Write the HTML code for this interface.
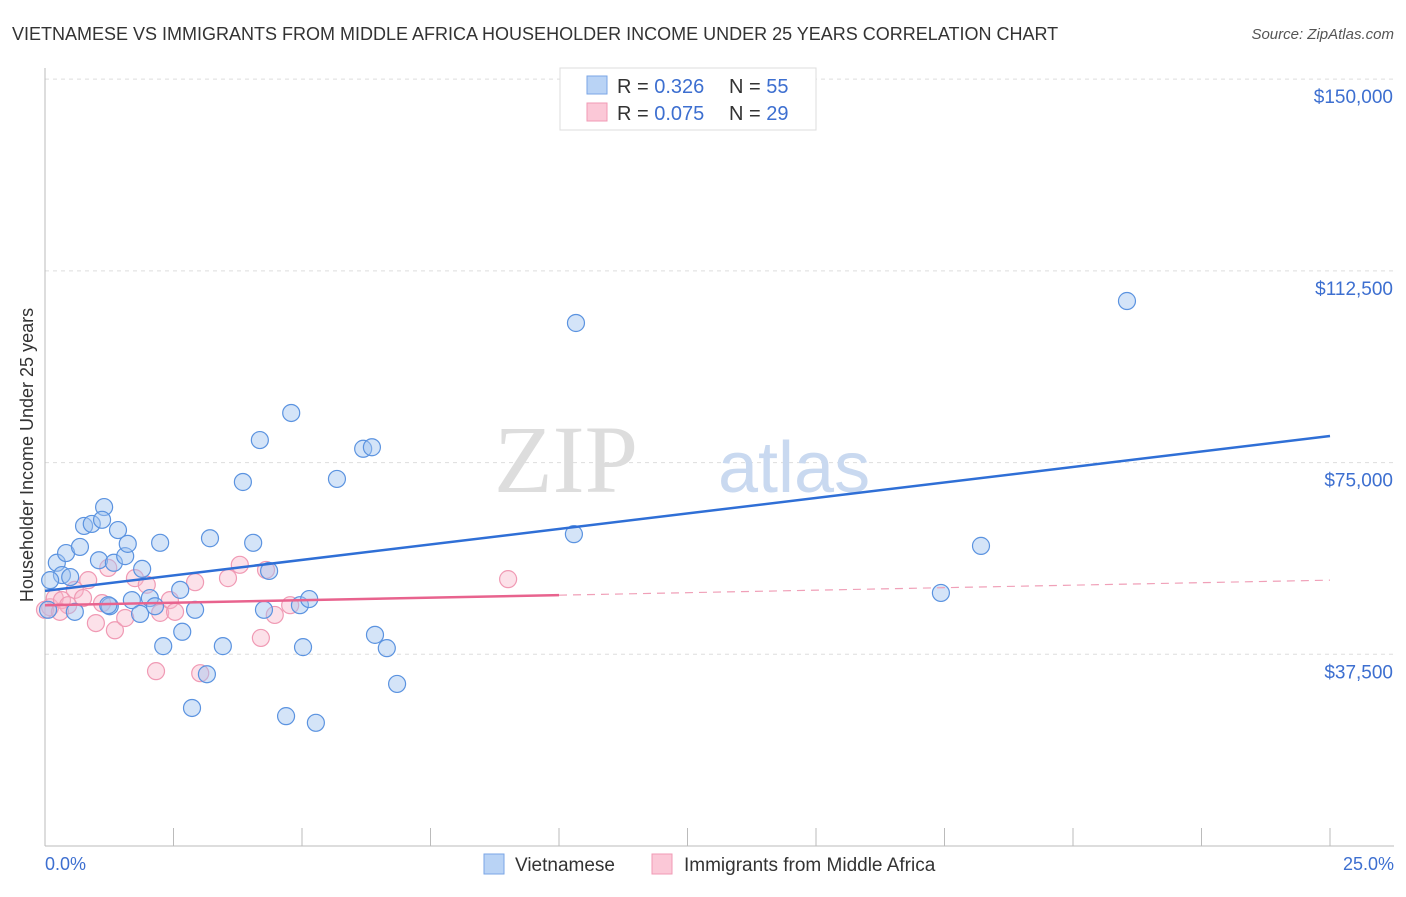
<!DOCTYPE html>
<html><head><meta charset="utf-8"><style>
body{margin:0;background:#fff;font-family:"Liberation Sans",sans-serif;}
svg text{font-family:"Liberation Sans",sans-serif;}
</style></head><body>
<svg id="chart" width="1406" height="892" xmlns="http://www.w3.org/2000/svg">
<text x="12" y="40" font-size="18" fill="#333">VIETNAMESE VS IMMIGRANTS FROM MIDDLE AFRICA HOUSEHOLDER INCOME UNDER 25 YEARS CORRELATION CHART</text>
<text x="1394" y="39" font-size="15" fill="#555" font-style="italic" text-anchor="end">Source: ZipAtlas.com</text>
<text x="33" y="455" font-size="18" fill="#333" text-anchor="middle" transform="rotate(-90 33 455)">Householder Income Under 25 years</text>
<g id="grid"></g>
<g id="yticks"></g>
<line x1="45" y1="68" x2="45" y2="846" stroke="#bbb"/>
<line x1="45" y1="846" x2="1394" y2="846" stroke="#bbb"/>
<g id="xticks"></g>
<text x="638" y="492" font-size="96" fill="#ddd" font-family="Liberation Serif" text-anchor="end" style="font-family:'Liberation Serif',serif">ZIP</text>
<text x="718" y="492" font-size="72" fill="#c9d9f0">atlas</text>
<g id="pts"></g>
<g id="lines"></g>
<text x="45" y="870" font-size="18" fill="#3d6fd0">0.0%</text>
<text x="1394" y="870" font-size="18" fill="#3d6fd0" text-anchor="end">25.0%</text>
<g>
<rect x="560" y="68" width="256" height="62" fill="#fff" stroke="#ddd"/>
<rect x="587" y="76" width="20" height="18" fill="#b9d3f5" stroke="#7aa6e6"/>
<rect x="587" y="103" width="20" height="18" fill="#fbc8d7" stroke="#f09ab4"/>
<text x="617" y="93" font-size="20" fill="#333">R = <tspan fill="#3d6fd0">0.326</tspan><tspan x="729">N = </tspan><tspan fill="#3d6fd0">55</tspan></text>
<text x="617" y="120" font-size="20" fill="#333">R = <tspan fill="#3d6fd0">0.075</tspan><tspan x="729">N = </tspan><tspan fill="#3d6fd0">29</tspan></text>
</g>
<g>
<rect x="484" y="854" width="20" height="20" fill="#b9d3f5" stroke="#7aa6e6"/>
<text x="515" y="871" font-size="19" fill="#333">Vietnamese</text>
<rect x="652" y="854" width="20" height="20" fill="#fbc8d7" stroke="#f09ab4"/>
<text x="684" y="871" font-size="19" fill="#333">Immigrants from Middle Africa</text>
</g>
</svg>
<script>
const blueX=[0.23,0.33,0.41,0.49,0.58,0.68,0.76,0.91,1.05,1.15,1.11,1.26,1.34,1.42,1.56,1.61,1.69,1.85,1.89,2.04,2.14,2.24,2.30,2.63,2.67,2.86,2.92,3.15,3.21,3.46,3.85,4.05,4.18,4.26,4.36,4.69,4.79,4.96,5.02,5.14,5.27,5.68,6.19,6.36,6.42,6.65,6.85,10.29,10.33,17.43,18.21,21.05,0.10,0.06,1.23];
const blueY=[55.4,53.0,57.3,52.6,45.8,58.5,62.6,63.0,55.9,66.3,63.8,46.9,55.4,61.8,56.7,59.1,48.1,45.4,54.2,48.5,46.9,59.3,39.1,50.1,41.9,27.0,46.2,33.6,60.2,39.1,71.2,59.3,79.4,46.2,53.8,25.4,84.7,47.1,38.9,48.3,24.1,71.8,77.7,78.0,41.3,38.7,31.7,61.0,102.3,49.5,58.7,106.6,52.0,46.2,47.1];
const pinkX=[0.10,0.19,0.33,0.45,0.58,0.84,0.99,1.11,1.23,1.36,1.56,1.75,1.98,2.16,2.24,2.43,2.53,2.92,3.02,3.56,3.79,4.20,4.30,4.47,4.77,9.01,0.0,0.29,0.74];
const pinkY=[46.7,48.5,48.1,47.1,50.1,52.0,43.6,47.5,54.4,42.2,44.6,52.4,51.1,34.2,45.6,48.1,45.8,51.6,33.8,52.4,55.0,40.7,54.0,45.2,47.1,52.2,46.2,45.8,48.5];
const yTicks=[37.5,75,112.5,150];
const yTickLabels=["$37,500","$75,000","$112,500","$150,000"];
const xTicks=[0,2.5,5,7.5,10,12.5,15,17.5,20,22.5,25];
const blueTrend=[49.9,80.2];
const pinkTrend=[47.1,52.0];
const pinkSolidEnd=10;
const NS="http://www.w3.org/2000/svg";
const sx=v=>45+v*51.4;
const sy=v=>846-v*1000/195.6;
function mk(tag,attrs,parent){const e=document.createElementNS(NS,tag);for(const k in attrs)e.setAttribute(k,attrs[k]);parent.appendChild(e);return e;}
const grid=document.getElementById('grid'),yt=document.getElementById('yticks'),xt=document.getElementById('xticks');
yTicks.forEach((t,i)=>{
 const l=mk('line',{x1:45,x2:1394,y1:sy(t),y2:sy(t),stroke:'#ddd','stroke-dasharray':'4,4'},grid);
 
 
 const tx=mk('text',{x:1393,y:sy(t)+24,'font-size':19,fill:'#3d6fd0','text-anchor':'end'},yt);
 tx.textContent=yTickLabels[i];
 
 
});
xTicks.forEach(t=>{
 const l=mk('line',{x1:sx(t),x2:sx(t),y1:828,y2:846,stroke:'#bbb'},xt);
 
 
});
const pts=document.getElementById('pts');
pinkX.forEach((x,i)=>{
 const c=mk('circle',{cx:sx(x),cy:sy(pinkY[i]),r:8.5,fill:'rgba(248,180,200,0.4)',stroke:'#f09ab4','stroke-width':1.2},pts);
 
 
});
blueX.forEach((x,i)=>{
 const c=mk('circle',{cx:sx(x),cy:sy(blueY[i]),r:8.5,fill:'rgba(160,196,240,0.45)',stroke:'#5b93e0','stroke-width':1.2},pts);
 
 
});
const lines=document.getElementById('lines');
const bl=mk('line',{x1:sx(0),y1:sy(blueTrend[0]),x2:sx(25),y2:sy(blueTrend[1]),stroke:'#2f6fd6','stroke-width':2.5},lines);


const pm=pinkTrend[0]+(pinkTrend[1]-pinkTrend[0])*pinkSolidEnd/25;
const pl=mk('line',{x1:sx(0),y1:sy(pinkTrend[0]),x2:sx(pinkSolidEnd),y2:sy(pm),stroke:'#e8638e','stroke-width':2.5},lines);


const pd=mk('line',{x1:sx(pinkSolidEnd),y1:sy(pm),x2:sx(25),y2:sy(pinkTrend[1]),stroke:'#f0a0b8','stroke-width':1.2,'stroke-dasharray':'8,6'},lines);


</script>
</body></html>
